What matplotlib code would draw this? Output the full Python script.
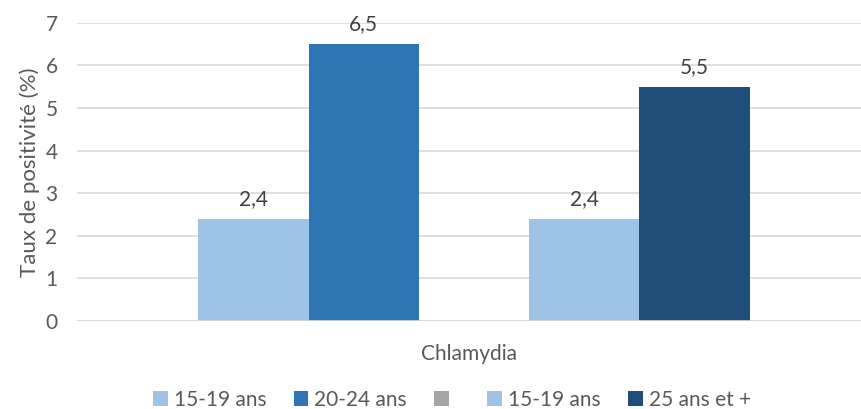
import numpy as np
import matplotlib
matplotlib.use("Agg")
import matplotlib.pyplot as plt

categorie = "Chlamydia"
series = ["15-19 ans", "20-24 ans", "", "15-19 ans", "25 ans et +"]
valeurs = [2.4, 6.5, np.nan, 2.4, 5.5]
couleurs = ["#9dc3e6", "#2e75b6", "#a5a5a5", "#9dc3e6", "#1f4e79"]
yticks = [0, 1, 2, 3, 4, 5, 6, 7]

plt.rcParams['font.family'] = ['Lato', 'DejaVu Sans']
gris = "#595959"
fs = 15

fig = plt.figure(figsize=(8.61, 4.09), dpi=100)
ax = fig.add_axes([77 / 861, 88 / 409, (861 - 77) / 861, (321 - 22.7) / 409])

x = np.arange(len(series))
for i in range(len(series)):
    h = 0 if np.isnan(valeurs[i]) else valeurs[i]
    ax.bar(x[i], h, width=1.0, color=couleurs[i], label=series[i] if series[i] else " ",
           zorder=3)
    if not np.isnan(valeurs[i]):
        ax.annotate(f"{valeurs[i]:.1f}".replace(".", ","), (x[i], valeurs[i]),
                    xytext=(0, 7), textcoords="offset points", ha="center", va="bottom",
                    fontsize=fs, color="#404040")

ax.set_xlim(-1.6, 5.51)
ax.set_ylim(0, 7)
ax.set_yticks(yticks)
ax.set_xticks([])
ax.grid(axis="y", color="#d9d9d9", linewidth=1.2, zorder=0)
ax.axhline(0, color="#d9d9d9", linewidth=1.2, zorder=4)
for s in ax.spines.values():
    s.set_visible(False)
ax.tick_params(axis="y", length=0, labelsize=fs, labelcolor=gris, pad=14)
ax.set_ylabel("Taux de positivité (%)", fontsize=fs + 1, color=gris, labelpad=4)

fig.text(469 / 861, 1 - 354 / 409, categorie, ha="center", va="center",
         fontsize=fs, color=gris)

leg = fig.legend(loc="center", bbox_to_anchor=(452 / 861, 1 - 400 / 409), ncol=5,
                 frameon=False, fontsize=fs, handlelength=0.7, handleheight=0.7,
                 handletextpad=0.3, columnspacing=1.3, labelcolor=gris)

fig.savefig("out.png", dpi=100)
